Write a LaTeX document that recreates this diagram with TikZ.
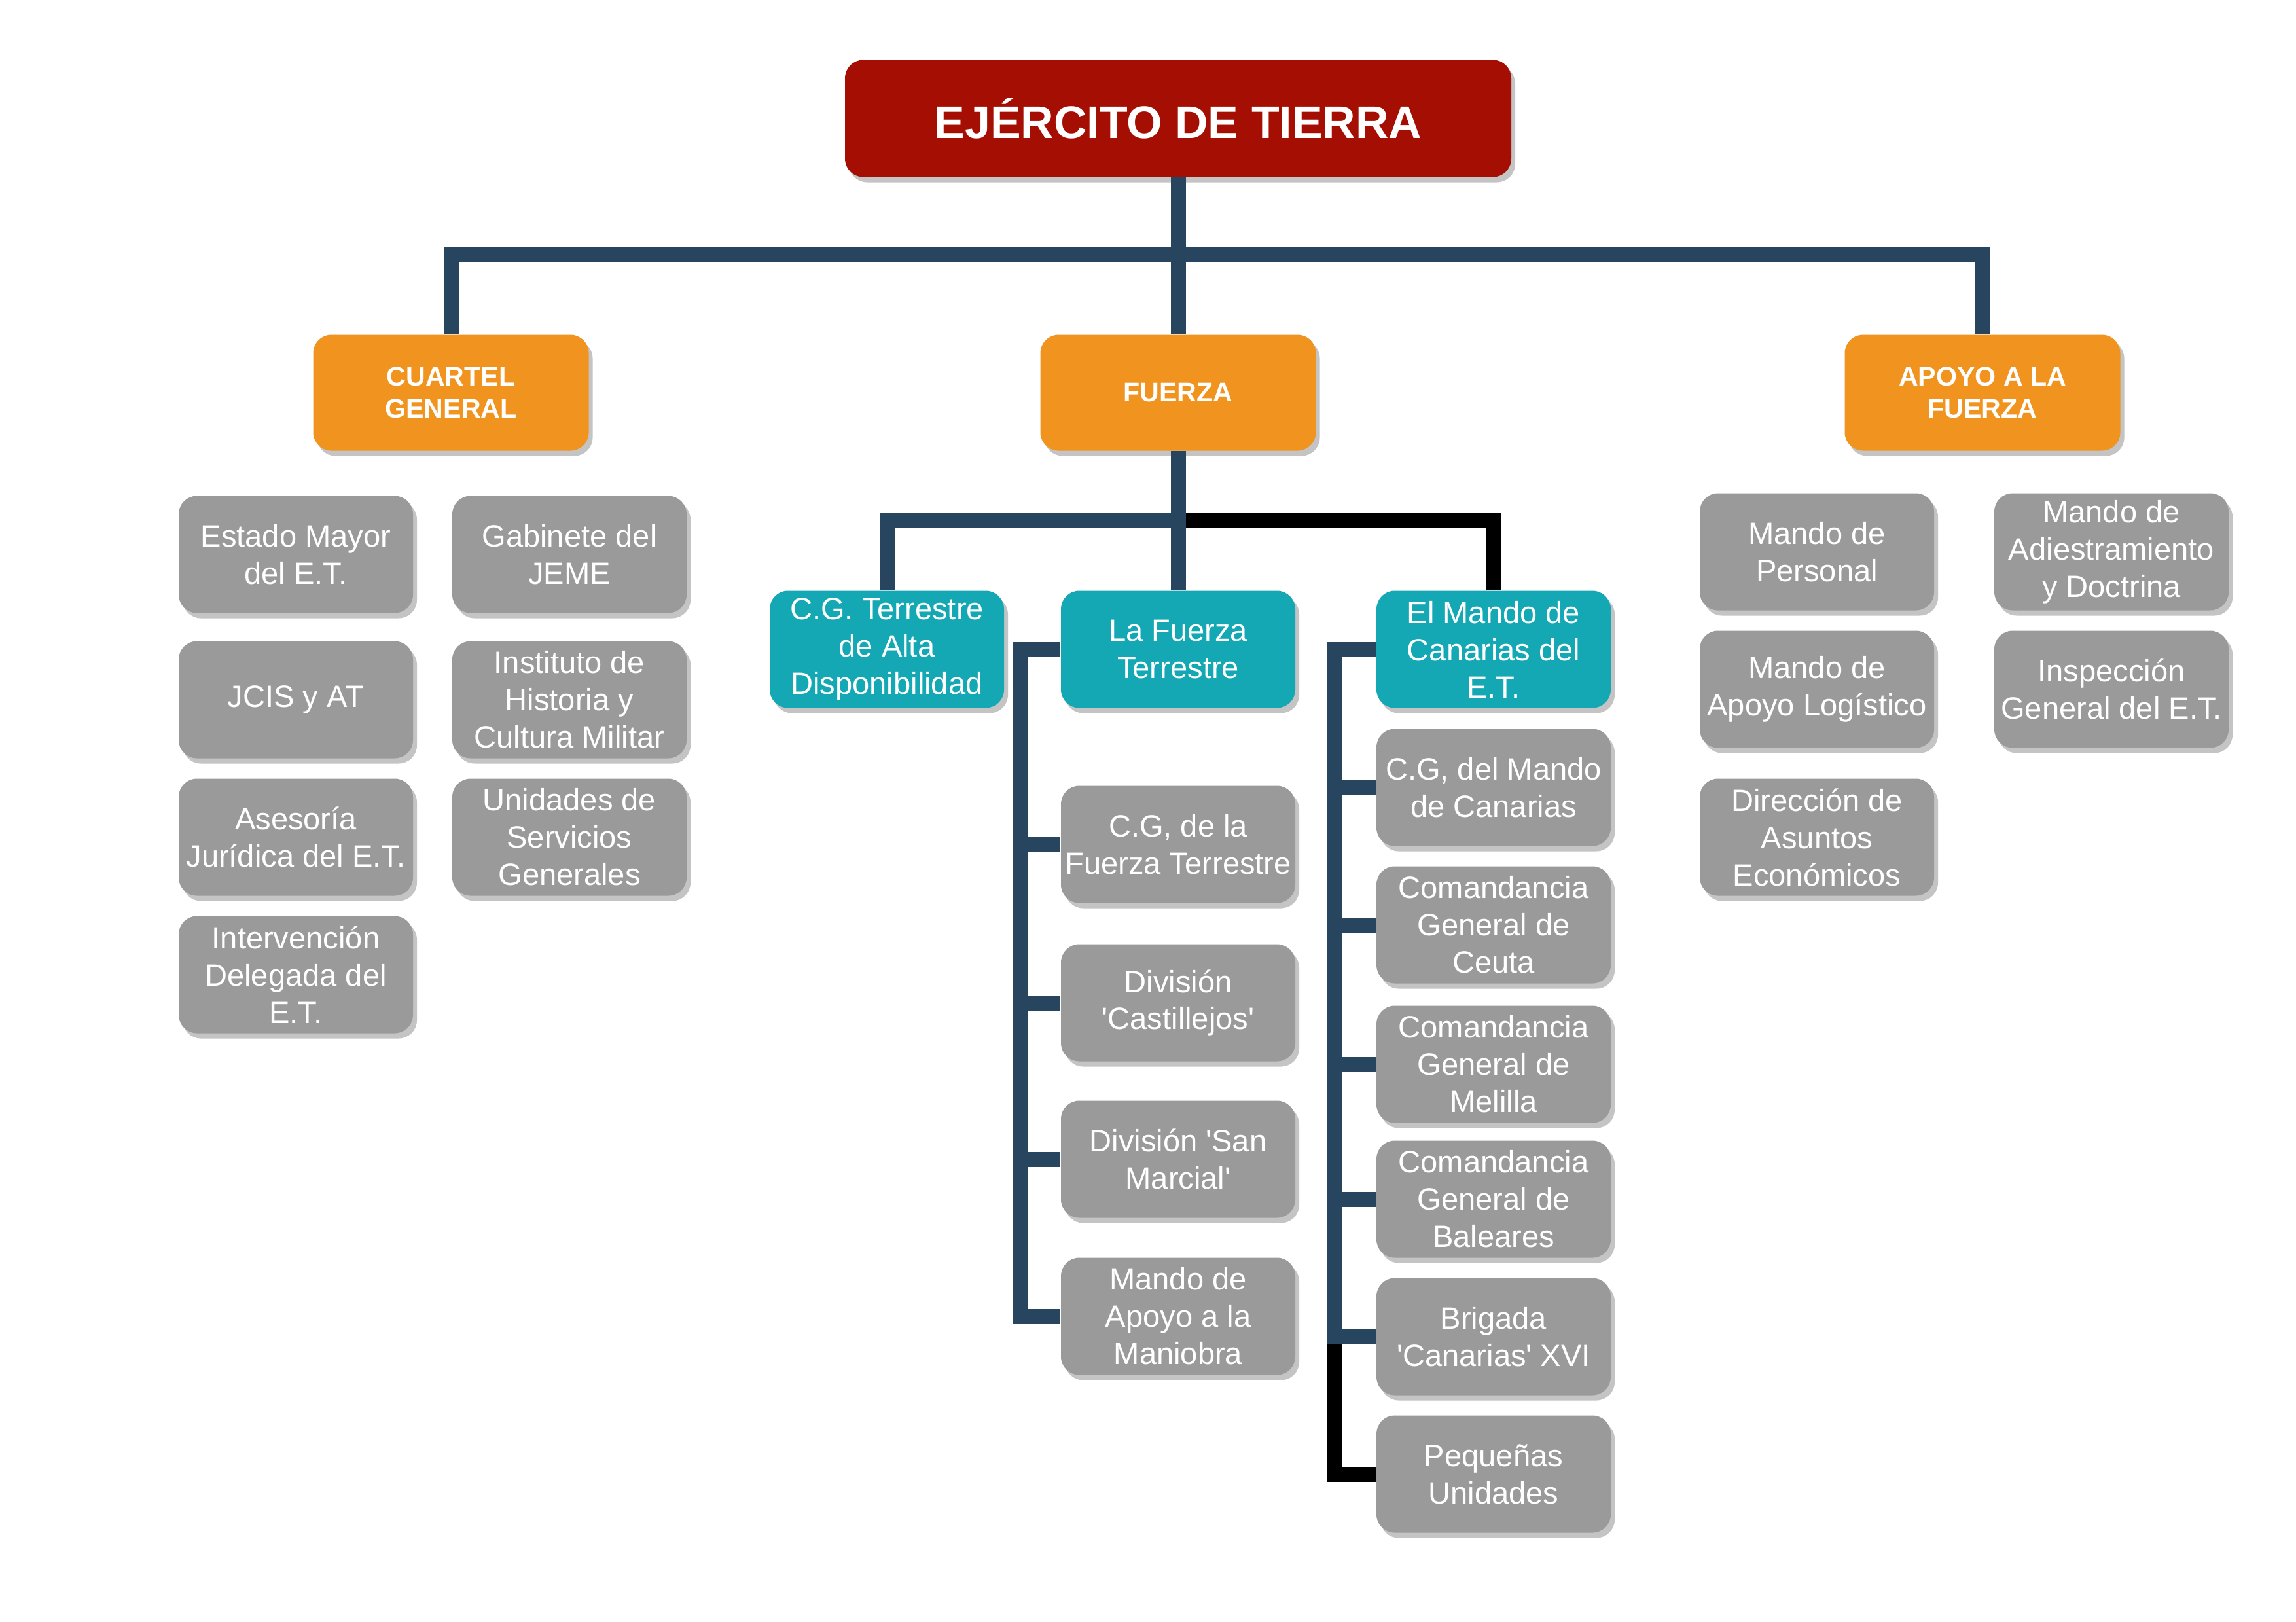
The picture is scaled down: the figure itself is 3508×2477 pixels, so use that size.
\documentclass[tikz,border=0pt]{standalone}
\usepackage{fontspec}
\setmainfont{Liberation Sans}
\usetikzlibrary{shadows}
\definecolor{linec}{HTML}{27455F}
\definecolor{redc}{HTML}{A50F03}
\definecolor{orangec}{HTML}{F0931F}
\definecolor{tealc}{HTML}{14A8B4}
\definecolor{boxgray}{HTML}{9A9A9A}
\definecolor{shgray}{HTML}{C4C4C4}
\newcommand{\sq}{\textquotesingle}
\begin{document}
\begin{tikzpicture}[x=0.1mm,y=-0.1mm,
  box/.style={rounded corners=2.8mm, minimum width=35.8mm, minimum height=17.9mm, inner sep=0pt, align=center, text=white,
    drop shadow={shadow xshift=0.6mm, shadow yshift=-0.8mm, fill=shgray, opacity=1}},
  gbox/.style={box, fill=boxgray, font={\fontsize{13.4}{16.2}\selectfont}},
  tbox/.style={box, fill=tealc, font={\fontsize{13.4}{16.2}\selectfont}},
  obox/.style={box, fill=orangec, minimum width=42.1mm, minimum height=17.7mm, font={\fontsize{11.7}{13.9}\selectfont\bfseries}},
  conn/.style={draw=linec, line width=2.3mm, line join=miter},
  bconn/.style={conn, draw=black}]
\useasboundingbox[fill=white] (0,0) rectangle (3508,2477);

% top
\node[box, fill=redc, minimum width=101.8mm, minimum height=17.9mm, font={\fontsize{19.9}{24}\selectfont\bfseries}] (title) at (1800,181) {EJÉRCITO DE TIERRA};

\node[obox] (cg) at (689,600) {CUARTEL\\GENERAL};
\node[obox] (fz) at (1800,600) {FUERZA};
\node[obox] (apo) at (3029,600) {APOYO A LA\\FUERZA};

% cuartel general
\node[gbox] (em) at (452,847) {Estado Mayor\\del E.T.};
\node[gbox] (jcis) at (452,1069) {JCIS y AT};
\node[gbox] (ase) at (452,1279) {Asesoría\\Jurídica del E.T.};
\node[gbox] (int) at (452,1489) {Intervención\\Delegada del\\E.T.};
\node[gbox] (gab) at (870,847) {Gabinete del\\JEME};
\node[gbox] (ihc) at (870,1069) {Instituto de\\Historia y\\Cultura Militar};
\node[gbox] (usg) at (870,1279) {Unidades de\\Servicios\\Generales};

% fuerza
\node[tbox] (cgt) at (1355,992) {C.G. Terrestre\\de Alta\\Disponibilidad};
\node[tbox] (lft) at (1800,992) {La Fuerza\\Terrestre};
\node[tbox] (mc) at (2282,992) {El Mando de\\Canarias del\\E.T.};

\node[gbox] (cgf) at (1800,1290) {C.G, de la\\Fuerza Terrestre};
\node[gbox] (cas) at (1800,1532) {División\\\sq Castillejos\sq};
\node[gbox] (smar) at (1800,1771) {División \sq San\\Marcial\sq};
\node[gbox] (mam) at (1800,2011) {Mando de\\Apoyo a la\\Maniobra};

\node[gbox] (cgm) at (2282,1203) {C.G, del Mando\\de Canarias};
\node[gbox] (ceu) at (2282,1413) {Comandancia\\General de\\Ceuta};
\node[gbox] (mel) at (2282,1626) {Comandancia\\General de\\Melilla};
\node[gbox] (bal) at (2282,1832) {Comandancia\\General de\\Baleares};
\node[gbox] (brig) at (2282,2042) {Brigada\\\sq Canarias\sq{} XVI};
\node[gbox] (peq) at (2282,2252) {Pequeñas\\Unidades};

% apoyo
\node[gbox] (mp) at (2776,843) {Mando de\\Personal};
\node[gbox] (mal) at (2776,1053) {Mando de\\Apoyo Logístico};
\node[gbox] (dae) at (2776,1279) {Dirección de\\Asuntos\\Económicos};
\node[gbox] (mad) at (3226,843) {Mando de\\Adiestramiento\\y Doctrina};
\node[gbox] (ige) at (3226,1053) {Inspección\\General del E.T.};

% connectors
\coordinate (bar) at (0,389);
\coordinate (fbar) at (0,794);
\coordinate (fx) at (1558,0);
\coordinate (cx) at (2039,0);

\draw[conn] (cg.north) |- (apo.north |- bar) -- (apo.north);
\draw[conn] (title.south) -- (fz.north);

\draw[bconn] (fz.south |- fbar) -| (mc.north);
\draw[conn] (cgt.north) |- (fz.south |- fbar);
\draw[conn] (fz.south) -- (lft.north);

\draw[conn] (lft.west) -| (fx |- mam.west) -- (mam.west);
\foreach \n in {cgf,cas,smar} \draw[conn] (fx |- \n.west) -- (\n.west);

\draw[bconn] (cx |- brig.west) |- (peq.west);
\draw[conn] (mc.west) -| (cx |- brig.west) -- (brig.west);
\foreach \n in {cgm,ceu,mel,bal} \draw[conn] (cx |- \n.west) -- (\n.west);
\end{tikzpicture}
\end{document}
